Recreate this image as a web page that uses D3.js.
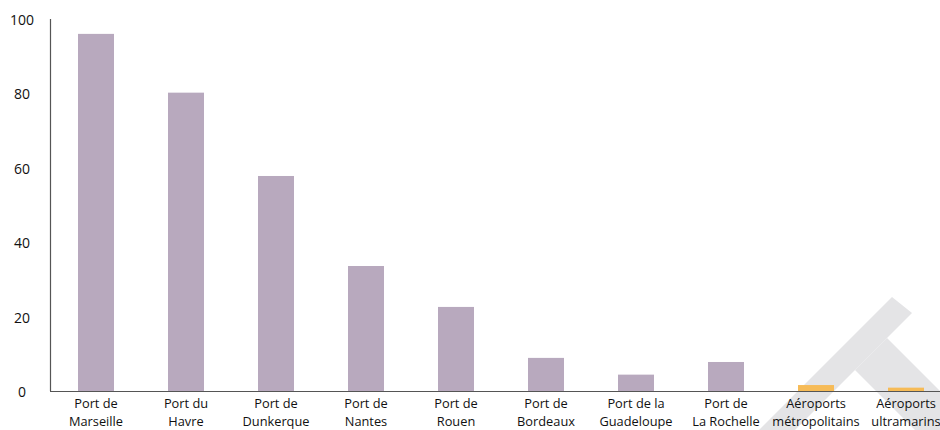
<!DOCTYPE html>
<html>
<head>
<meta charset="utf-8">
<script src="https://cdn.jsdelivr.net/npm/d3@7"></script>
<style>
  body { margin: 0; background: #fff; }
  text { font-family: "Open Sans", sans-serif; fill: #111; }
</style>
</head>
<body>
<script>
// data
var line1 = ["Port de", "Port du", "Port de", "Port de", "Port de", "Port de", "Port de la", "Port de", "Aéroports", "Aéroports"];
var line2 = ["Marseille", "Havre", "Dunkerque", "Nantes", "Rouen", "Bordeaux", "Guadeloupe", "La Rochelle", "métropolitains", "ultramarins"];
var values = [96, 80.2, 57.8, 33.6, 22.6, 8.9, 4.4, 7.8, 1.6, 0.9];
var kinds = ["port", "port", "port", "port", "port", "port", "port", "port", "air", "air"];
var yTicks = [0, 20, 40, 60, 80, 100];

var width = 940, height = 430;
var colors = {port: "#b8a9be", air: "#f6bb57"};

var svg = d3.select("body").append("svg")
    .attr("width", width)
    .attr("height", height);

// watermark in the lower right corner
var wm = svg.append("g").attr("fill", "#e4e4e6");
wm.append("polygon").attr("points", "892,297 912,313 795,430 759,430");
wm.append("polygon").attr("points", "887,338 940,391 940,455 855,370");

var x = d3.scaleBand()
    .domain(d3.range(values.length))
    .range([51, 951])
    .paddingInner(0.6)
    .paddingOuter(0.3);

var y = d3.scaleLinear().domain([0, 100]).range([391, 19]);

// bars
svg.selectAll(".bar")
    .data(values)
    .enter().append("rect")
    .attr("class", "bar")
    .attr("x", function(d, i) { return x(i); })
    .attr("y", function(d) { return y(d); })
    .attr("width", x.bandwidth())
    .attr("height", function(d) { return y(0) - y(d); })
    .attr("fill", function(d, i) { return colors[kinds[i]]; });

// axes lines
svg.append("line")
    .attr("x1", 50.5).attr("x2", 50.5)
    .attr("y1", y(100)).attr("y2", y(0))
    .attr("stroke", "#555").attr("stroke-width", 1.2);
svg.append("line")
    .attr("x1", 50).attr("x2", width)
    .attr("y1", y(0) + 0.5).attr("y2", y(0) + 0.5)
    .attr("stroke", "#555").attr("stroke-width", 1.2);

// y tick labels
svg.selectAll(".ytick")
    .data(yTicks)
    .enter().append("text")
    .attr("class", "ytick")
    .attr("x", 22)
    .attr("y", function(d) { return y(d) + 1; })
    .attr("dy", "0.35em")
    .attr("text-anchor", "middle")
    .style("font-size", "14px")
    .text(function(d) { return d; });

// category labels, two lines each
var lab = svg.selectAll(".xlab")
    .data(values)
    .enter().append("text")
    .attr("class", "xlab")
    .attr("text-anchor", "middle")
    .style("font-size", "12.8px");
lab.append("tspan")
    .attr("x", function(d, i) { return x(i) + x.bandwidth() / 2; })
    .attr("y", 408)
    .text(function(d, i) { return line1[i]; });
lab.append("tspan")
    .attr("x", function(d, i) { return x(i) + x.bandwidth() / 2; })
    .attr("y", 425.5)
    .text(function(d, i) { return line2[i]; });
</script>
</body>
</html>
